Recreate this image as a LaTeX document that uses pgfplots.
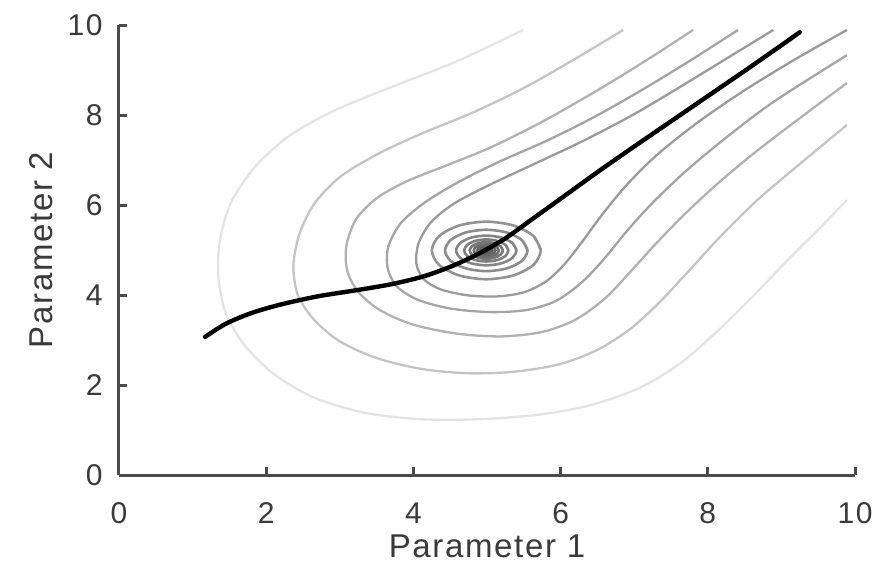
\documentclass[border=0pt]{standalone}
\usepackage{fontspec}
\setmainfont{Liberation Sans}[LetterSpace=5]
\usepackage{pgfplots}
\pgfplotsset{compat=1.18}
\definecolor{axgray}{HTML}{4A4A4A}
\definecolor{txtgray}{HTML}{3A3A3A}
\definecolor{cA}{HTML}{E2E4E2}
\definecolor{cB}{HTML}{C2C5C2}
\definecolor{cC}{HTML}{AFB2AF}
\definecolor{cD}{HTML}{A2A5A2}
\definecolor{cE}{HTML}{999B99}
\definecolor{rA}{HTML}{939393}
\definecolor{rB}{HTML}{8C8C8C}
\definecolor{rC}{HTML}{858585}
\definecolor{rD}{HTML}{7E7E7E}
\definecolor{rE}{HTML}{767676}
\definecolor{rF}{HTML}{6E6E6E}
\definecolor{rG}{HTML}{666666}
\definecolor{rH}{HTML}{5E5E5E}
\begin{document}
\begin{tikzpicture}
\begin{axis}[
  scale only axis, width=368pt, height=225pt,
  xmin=0, xmax=10, ymin=0, ymax=10,
  axis x line*=bottom, axis y line*=left,
  axis line style={axgray, line width=1.5pt, -},
  xtick={0,2,...,10}, ytick={0,2,...,10},
  tick align=inside, major tick length=4pt,
  tick style={axgray, line width=1.5pt},
  /pgf/number format/assume math mode=true,
  ticklabel style={font=\fontsize{15}{18}\selectfont, text=txtgray},
  xticklabel style={anchor=north, inner sep=0pt, yshift=-13.5pt},
  yticklabel style={anchor=east, inner sep=0pt, xshift=-8pt},
  xlabel={Parameter 1}, ylabel={Parameter 2},
  label style={font=\fontsize{16.5}{20}\selectfont, text=txtgray},
  xlabel style={at={(axis description cs:0.5,-0.1822)}, anchor=base},
  ylabel style={at={(axis description cs:-0.091,0.5)}, anchor=base},
  cont/.style={no marks, smooth, line width=1.15pt},
  ring/.style={no marks, smooth, line width=1.3pt},
]
% open contours (outer levels)
\addplot[cont, cA] coordinates {(5.49,9.89) (4.60,9.20) (3.70,8.62) (2.90,8.08) (2.30,7.52) (1.85,6.85) (1.52,6.05) (1.37,5.20) (1.35,4.40) (1.45,3.60) (1.70,2.90) (2.10,2.25) (2.65,1.72) (3.35,1.38) (4.10,1.24) (4.90,1.24) (5.70,1.34) (6.40,1.55) (7.05,1.92) (7.60,2.45) (8.10,3.15) (8.60,3.95) (9.10,4.80) (9.50,5.45) (9.89,6.11)};
\addplot[cont, cB] coordinates {(6.85,9.89) (6.20,9.25) (5.50,8.60) (4.80,8.05) (4.10,7.58) (3.50,7.12) (3.00,6.62) (2.65,6.02) (2.45,5.35) (2.37,4.65) (2.43,4.00) (2.65,3.45) (3.00,2.97) (3.50,2.60) (4.10,2.36) (4.75,2.26) (5.40,2.30) (6.00,2.47) (6.50,2.78) (6.95,3.25) (7.35,3.85) (7.75,4.55) (8.20,5.35) (8.70,6.15) (9.30,6.98) (9.89,7.78)};
\addplot[cont, cC] coordinates {(7.80,9.89) (7.15,9.20) (6.45,8.50) (5.75,7.85) (5.05,7.28) (4.45,6.88) (3.90,6.52) (3.50,6.15) (3.22,5.68) (3.09,5.10) (3.10,4.55) (3.25,4.07) (3.55,3.66) (4.00,3.34) (4.60,3.14) (5.20,3.08) (5.75,3.18) (6.20,3.45) (6.60,3.92) (6.95,4.52) (7.30,5.15) (7.70,5.82) (8.15,6.50) (8.65,7.18) (9.25,7.93) (9.89,8.71)};
\addplot[cont, cD] coordinates {(8.41,9.89) (7.80,9.25) (7.15,8.60) (6.45,7.95) (5.80,7.42) (5.15,6.95) (4.60,6.50) (4.15,6.05) (3.83,5.60) (3.66,5.08) (3.65,4.60) (3.77,4.20) (4.05,3.90) (4.50,3.70) (5.05,3.62) (5.55,3.67) (5.95,3.88) (6.30,4.30) (6.60,4.82) (6.90,5.42) (7.25,6.05) (7.70,6.75) (8.25,7.50) (8.90,8.30) (9.89,9.33)};
\addplot[cont, cE] coordinates {(8.89,9.89) (8.30,9.30) (7.65,8.65) (7.00,8.02) (6.30,7.42) (5.60,6.88) (5.00,6.42) (4.55,6.03) (4.24,5.62) (4.07,5.15) (4.04,4.70) (4.14,4.35) (4.38,4.12) (4.75,3.99) (5.15,3.97) (5.50,4.06) (5.80,4.30) (6.05,4.68) (6.30,5.20) (6.58,5.82) (6.90,6.45) (7.30,7.10) (7.85,7.82) (8.50,8.55) (9.20,9.25) (9.89,9.89)};
% closed rings around the minimum
\addplot[ring, rA] coordinates {(5.73,4.99) (5.631,5.31) (5.36,5.544) (4.99,5.63) (4.62,5.544) (4.349,5.31) (4.25,4.99) (4.349,4.67) (4.62,4.436) (4.99,4.35) (5.36,4.436) (5.631,4.67) (5.73,4.99) (5.631,5.31)};
\addplot[ring, rB] coordinates {(5.55,4.99) (5.475,5.22) (5.27,5.388) (4.99,5.45) (4.71,5.388) (4.505,5.22) (4.43,4.99) (4.505,4.76) (4.71,4.592) (4.99,4.53) (5.27,4.592) (5.475,4.76) (5.55,4.99) (5.475,5.22)};
\addplot[ring, rC] coordinates {(5.40,4.99) (5.345,5.155) (5.195,5.276) (4.99,5.32) (4.785,5.276) (4.635,5.155) (4.58,4.99) (4.635,4.825) (4.785,4.704) (4.99,4.66) (5.195,4.704) (5.345,4.825) (5.40,4.99) (5.345,5.155)};
\addplot[ring, rD] coordinates {(5.29,4.99) (5.25,5.113) (5.14,5.202) (4.99,5.235) (4.84,5.202) (4.73,5.113) (4.69,4.99) (4.73,4.868) (4.84,4.778) (4.99,4.745) (5.14,4.778) (5.25,4.868) (5.29,4.99) (5.25,5.113)};
\addplot[ring, rE] coordinates {(5.215,4.99) (5.185,5.083) (5.103,5.15) (4.99,5.175) (4.878,5.15) (4.795,5.083) (4.765,4.99) (4.795,4.898) (4.878,4.83) (4.99,4.805) (5.103,4.83) (5.185,4.898) (5.215,4.99) (5.185,5.083)};
\addplot[ring, rF] coordinates {(5.16,4.99) (5.137,5.06) (5.075,5.111) (4.99,5.13) (4.905,5.111) (4.843,5.06) (4.82,4.99) (4.843,4.92) (4.905,4.869) (4.99,4.85) (5.075,4.869) (5.137,4.92) (5.16,4.99) (5.137,5.06)};
\addplot[ring, rG] coordinates {(5.115,4.99) (5.098,5.04) (5.053,5.077) (4.99,5.09) (4.928,5.077) (4.882,5.04) (4.865,4.99) (4.882,4.94) (4.928,4.903) (4.99,4.89) (5.053,4.903) (5.098,4.94) (5.115,4.99) (5.098,5.04)};
\addplot[fill=rH, draw=rH, line width=0.8pt] coordinates {(5.08,4.99) (5.068,5.027) (5.035,5.055) (4.99,5.065) (4.945,5.055) (4.912,5.027) (4.90,4.99) (4.912,4.953) (4.945,4.925) (4.99,4.915) (5.035,4.925) (5.068,4.953)} -- cycle;
% descent path
\addplot[no marks, smooth, black, line width=2.2pt, line cap=round] coordinates {(1.17,3.07) (1.45,3.36) (1.80,3.60) (2.20,3.79) (2.70,3.97) (3.20,4.10) (3.70,4.24) (4.15,4.42) (4.55,4.66) (4.90,4.93) (5.25,5.26) (5.60,5.67) (6.00,6.14) (6.50,6.73) (7.00,7.30) (7.50,7.86) (8.00,8.42) (8.50,8.98) (9.00,9.55) (9.25,9.84)};
\end{axis}
\path ([shift={(-59.5pt,-44.5pt)}]current axis.south west) rectangle ([shift={(16pt,12.5pt)}]current axis.north east);
\end{tikzpicture}
\end{document}
